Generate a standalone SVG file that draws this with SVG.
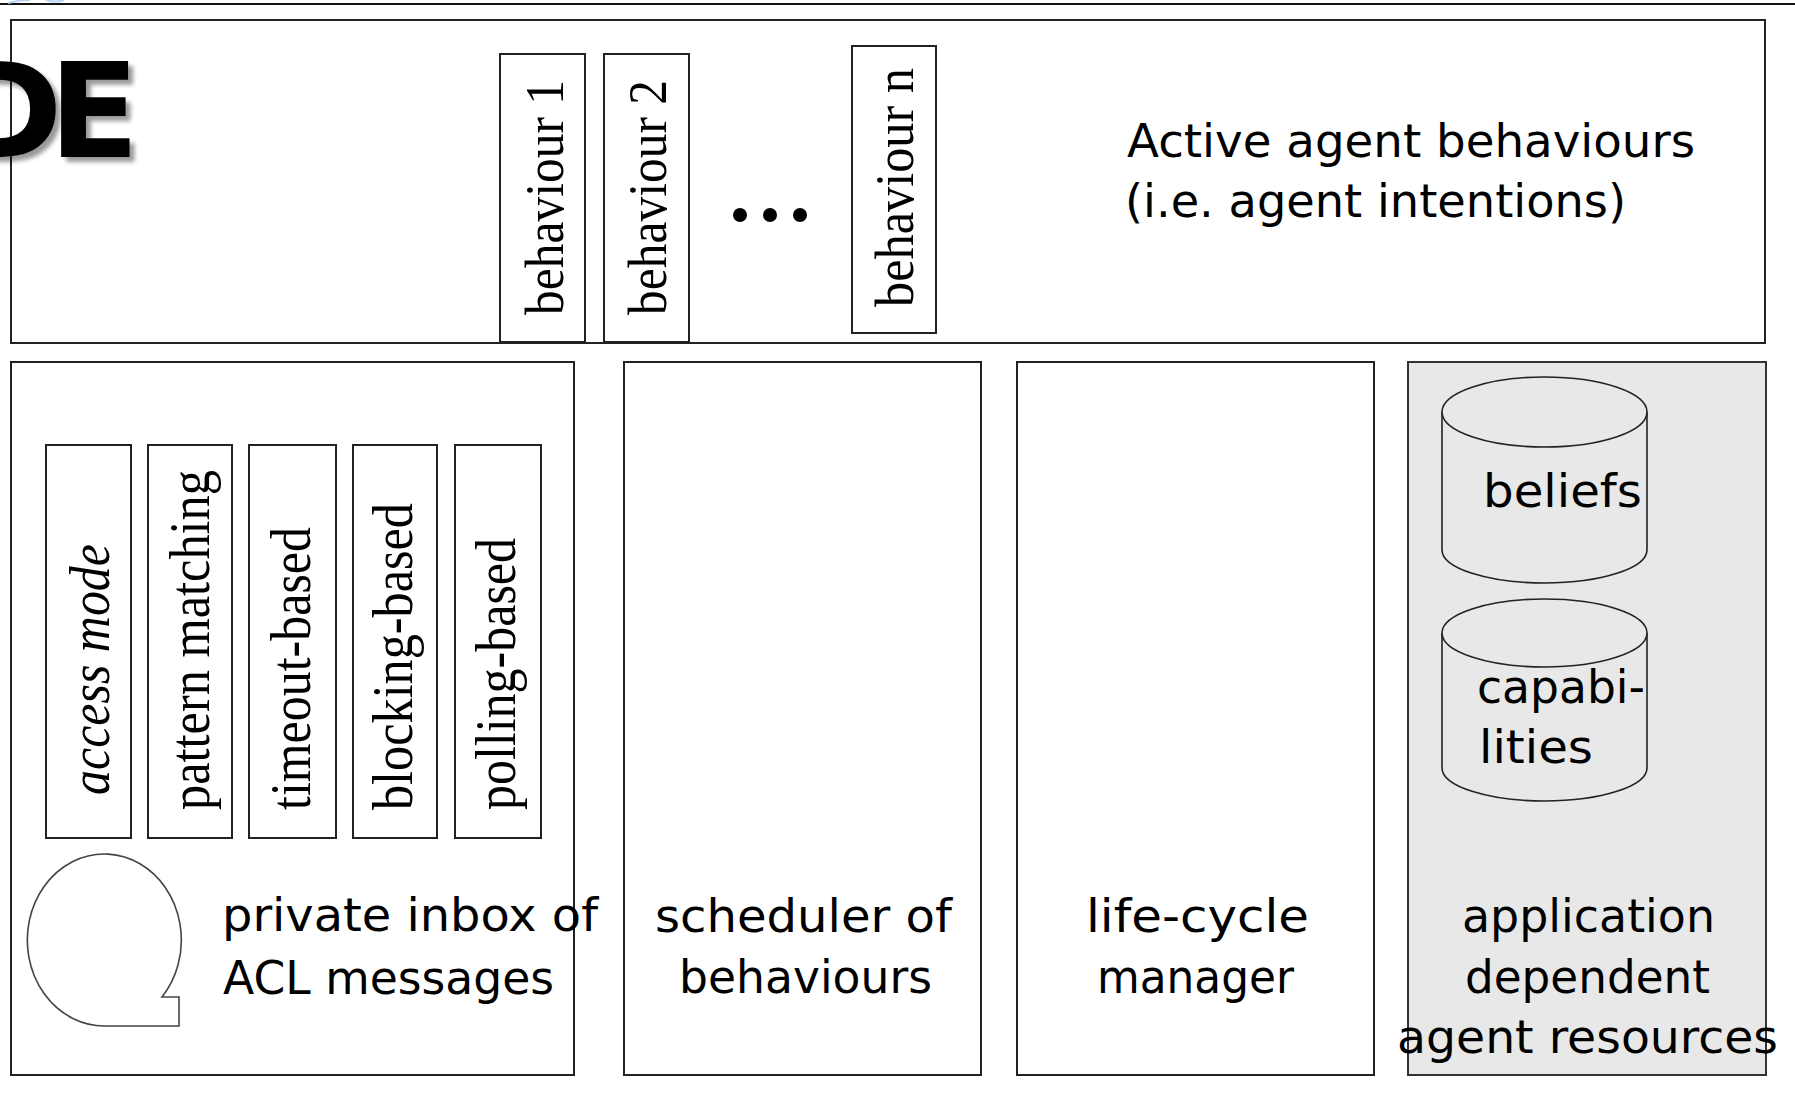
<svg xmlns="http://www.w3.org/2000/svg" width="1795" height="1104" viewBox="0 0 1795 1104">
  <style>
    .box { fill: #ffffff; stroke: #222222; stroke-width: 2; }
    .res { fill: #e8e8e8; stroke: #333333; stroke-width: 2; }
    .cyl { fill: #e8e8e8; stroke: #222222; stroke-width: 1.6; }
    .tm { font-family: "Liberation Serif", "Times New Roman", serif; font-size: 50px; fill: #000000; }
    .it { font-style: italic; }
    .cm { font-family: "DejaVu Sans", "Liberation Sans", sans-serif; font-size: 46px; fill: #000000; }
    .title { font-family: "DejaVu Sans", "Liberation Sans", sans-serif; font-weight: bold; font-size: 132px; fill: #000000; }
  </style>
  <defs>
    <!-- soft grey drop shadow for the heading letters -->
    <filter id="shadow" x="-20%" y="-20%" width="150%" height="150%">
      <feGaussianBlur in="SourceAlpha" stdDeviation="2.2"/>
      <feOffset dx="5" dy="5" result="off"/>
      <feComponentTransfer>
        <feFuncA type="linear" slope="0.4"/>
      </feComponentTransfer>
      <feMerge>
        <feMergeNode/>
        <feMergeNode in="SourceGraphic"/>
      </feMerge>
    </filter>
  </defs>

  <rect x="0" y="0" width="1795" height="1104" fill="#ffffff"/>

  <!-- page header rule and clipped logo edge -->
  <line x1="0" y1="4" x2="1795" y2="4" stroke="#111111" stroke-width="2"/>
  <path d="M8,3 Q20,0 30,0 M46,0 Q56,3 64,0" fill="none" stroke="#b9d3f2" stroke-width="2"/>

  <!-- active behaviours container -->
  <g id="behaviours-panel">
    <rect class="box" x="11" y="20" width="1754" height="323"/>
    <text class="cm" x="1127" y="157" textLength="568" lengthAdjust="spacingAndGlyphs">Active agent behaviours</text>
    <text class="cm" x="1125" y="217" textLength="501" lengthAdjust="spacingAndGlyphs">(i.e. agent intentions)</text>
  </g>

  <!-- clipped slide heading -->
  <g id="title">
    <text class="title" x="-47 49" y="157" filter="url(#shadow)">DE</text>
  </g>

  <g id="behaviour-1">
    <rect class="box" x="500" y="54" width="85" height="288"/>
    <text class="tm" transform="translate(563,315) rotate(-90) scale(1,1.08)" textLength="235" lengthAdjust="spacingAndGlyphs">behaviour 1</text>
  </g>
  <g id="behaviour-2">
    <rect class="box" x="604" y="54" width="85" height="288"/>
    <text class="tm" transform="translate(666,315) rotate(-90) scale(1,1.08)" textLength="235" lengthAdjust="spacingAndGlyphs">behaviour 2</text>
  </g>
  <g id="ellipsis">
    <circle cx="740" cy="215" r="7" fill="#000000"/>
    <circle cx="770" cy="215" r="7" fill="#000000"/>
    <circle cx="800" cy="215" r="7" fill="#000000"/>
  </g>
  <g id="behaviour-n">
    <rect class="box" x="852" y="46" width="84" height="287"/>
    <text class="tm" transform="translate(913,307) rotate(-90) scale(1,1.08)" textLength="239" lengthAdjust="spacingAndGlyphs">behaviour n</text>
  </g>

  <!-- message inbox -->
  <g id="inbox">
    <rect class="box" x="11" y="362" width="563" height="713"/>
    <path d="M179,1026 L105,1026 A77,86 0 1 1 162,997 L179,997 Z" fill="#ffffff" stroke="#444444" stroke-width="1.6"/>
    <text class="cm" x="222" y="931" textLength="376" lengthAdjust="spacingAndGlyphs">private inbox of</text>
    <text class="cm" x="223" y="994" textLength="331" lengthAdjust="spacingAndGlyphs">ACL messages</text>
  </g>

  <g id="access-mode">
    <rect class="box" x="46" y="445" width="85" height="393"/>
    <text class="tm it" transform="translate(109,795) rotate(-90) scale(1,1.15)" textLength="251" lengthAdjust="spacingAndGlyphs">access mode</text>
  </g>
  <g id="pattern-matching">
    <rect class="box" x="148" y="445" width="84" height="393"/>
    <text class="tm" transform="translate(209,810) rotate(-90) scale(1,1.15)" textLength="340" lengthAdjust="spacingAndGlyphs">pattern matching</text>
  </g>
  <g id="timeout-based">
    <rect class="box" x="249" y="445" width="87" height="393"/>
    <text class="tm" transform="translate(310,810) rotate(-90) scale(1,1.15)" textLength="283" lengthAdjust="spacingAndGlyphs">timeout-based</text>
  </g>
  <g id="blocking-based">
    <rect class="box" x="353" y="445" width="84" height="393"/>
    <text class="tm" transform="translate(412,810) rotate(-90) scale(1,1.15)" textLength="307" lengthAdjust="spacingAndGlyphs">blocking-based</text>
  </g>
  <g id="polling-based">
    <rect class="box" x="455" y="445" width="86" height="393"/>
    <text class="tm" transform="translate(515,810) rotate(-90) scale(1,1.15)" textLength="272" lengthAdjust="spacingAndGlyphs">polling-based</text>
  </g>

  <g id="scheduler">
    <rect class="box" x="624" y="362" width="357" height="713"/>
    <text class="cm" x="655" y="932" textLength="297" lengthAdjust="spacingAndGlyphs">scheduler of</text>
    <text class="cm" x="679" y="993" textLength="253" lengthAdjust="spacingAndGlyphs">behaviours</text>
  </g>

  <g id="life-cycle">
    <rect class="box" x="1017" y="362" width="357" height="713"/>
    <text class="cm" x="1086" y="932" textLength="223" lengthAdjust="spacingAndGlyphs">life-cycle</text>
    <text class="cm" x="1097" y="993" textLength="197" lengthAdjust="spacingAndGlyphs">manager</text>
  </g>

  <!-- application resources -->
  <g id="resources">
    <rect class="res" x="1408" y="362" width="358" height="713"/>
    <text class="cm" x="1462" y="932" textLength="253" lengthAdjust="spacingAndGlyphs">application</text>
    <text class="cm" x="1465" y="993" textLength="245" lengthAdjust="spacingAndGlyphs">dependent</text>
    <text class="cm" x="1397" y="1053" textLength="381" lengthAdjust="spacingAndGlyphs">agent resources</text>
  </g>

  <g id="beliefs">
    <path class="cyl" d="M1442,412 L1442,550 A102.5,33 0 0 0 1647,550 L1647,412"/>
    <ellipse class="cyl" cx="1544.5" cy="412" rx="102.5" ry="35"/>
    <text class="cm" x="1483" y="507" textLength="159" lengthAdjust="spacingAndGlyphs">beliefs</text>
  </g>

  <g id="capabilities">
    <path class="cyl" d="M1442,633 L1442,768 A102.5,33 0 0 0 1647,768 L1647,633"/>
    <ellipse class="cyl" cx="1544.5" cy="633" rx="102.5" ry="34"/>
    <text class="cm" x="1477" y="703" textLength="168" lengthAdjust="spacingAndGlyphs">capabi-</text>
    <text class="cm" x="1479" y="763" textLength="114" lengthAdjust="spacingAndGlyphs">lities</text>
  </g>
</svg>
